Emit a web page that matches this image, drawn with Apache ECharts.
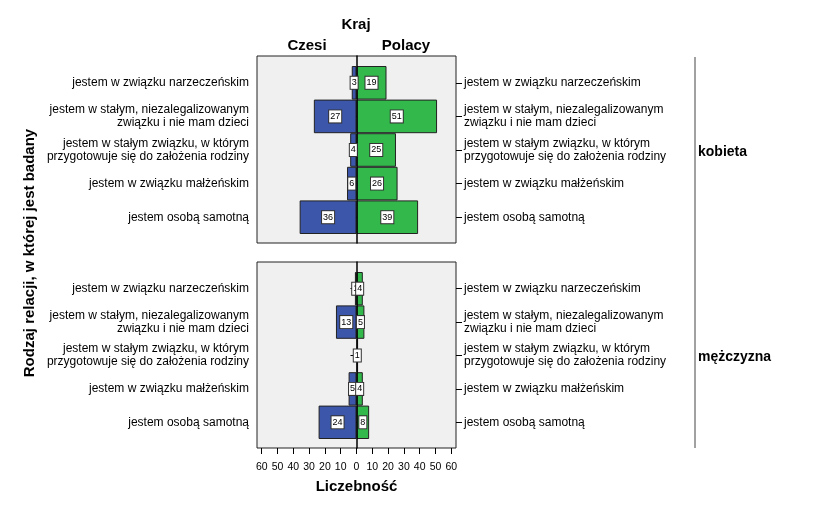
<!DOCTYPE html>
<html>
<head>
<meta charset="utf-8">
<script src="https://cdn.jsdelivr.net/npm/echarts@6/dist/echarts.min.js"></script>
<style>html,body{margin:0;padding:0;background:#fff;}#c{width:816px;height:509px;}</style>
</head>
<body>
<div id="c"></div>
<script>
const categories = [
  'jestem w związku narzeczeńskim',
  'jestem w stałym, niezalegalizowanym\nzwiązku i nie mam dzieci',
  'jestem w stałym związku, w którym\nprzygotowuje się do założenia rodziny',
  'jestem w związku małżeńskim',
  'jestem osobą samotną'
];
const countryNames = ['Czesi', 'Polacy'];
const sexNames = ['kobieta', 'mężczyzna'];
const womenCzech = [3, 27, 4, 6, 36];
const womenPolish = [19, 51, 25, 26, 39];
const menCzech = [1, 13, null, 5, 24];
const menPolish = [4, 5, 1, 4, 8];
const xTicks = [-60, -50, -40, -30, -20, -10, 0, 10, 20, 30, 40, 50, 60];

const FONT = '"Liberation Sans", Arial, sans-serif';
const BLUE = '#3c56aa';
const GREEN = '#33b84b';

const chart = echarts.init(document.getElementById('c'));

const L = 257, W = 199;
const grids = [
  {left: L, top: 56, width: W, height: 187, show: true, backgroundColor: '#f0f0f0', borderColor: '#222', borderWidth: 1},
  {left: L, top: 66, width: W, height: 168},
  {left: L, top: 262, width: W, height: 186, show: true, backgroundColor: '#f0f0f0', borderColor: '#222', borderWidth: 1},
  {left: L, top: 272, width: W, height: 167}
];

function hiddenX(gi) {
  return {gridIndex: gi, type: 'value', min: -63, max: 63, show: false};
}
function zeroY(gi) {
  return {
    gridIndex: gi, type: 'category', data: [''], z: 3,
    axisLine: {show: true, onZero: true, lineStyle: {color: '#000', width: 1.5}},
    axisTick: {show: false}, axisLabel: {show: false}, splitLine: {show: false}
  };
}
function catY(gi, pos) {
  return {
    gridIndex: gi, type: 'category', data: categories, inverse: true, position: pos,
    axisLine: {show: false},
    axisTick: {show: true, alignWithLabel: true, length: 6, lineStyle: {color: '#000', width: 1}},
    axisLabel: {fontFamily: FONT, fontSize: 12, color: '#000', margin: 8, lineHeight: 13},
    splitLine: {show: false}
  };
}
function bar(name, data, gi, yi, color, neg) {
  return {
    name, type: 'bar', xAxisIndex: gi, yAxisIndex: yi, z: 2,
    data: data.map(v => v == null ? null : (neg ? -v : v)),
    barWidth: '100%', barGap: '-100%',
    itemStyle: {color, borderColor: '#222', borderWidth: 1},
    label: {show: false}
  };
}
// value labels: placed at the middle of each bar, drawn above the zero line
function labels(name, data, gi, yi, neg) {
  const pts = [];
  data.forEach((v, i) => { if (v != null) pts.push({value: [(neg ? -v : v) / 2, i], raw: v}); });
  return {
    name, type: 'scatter', xAxisIndex: gi, yAxisIndex: yi, z: 5,
    symbolSize: 1, itemStyle: {color: 'rgba(0,0,0,0)', opacity: 1}, silent: true,
    emphasis: {disabled: true},
    data: pts,
    label: {
      show: true, position: 'inside', fontFamily: FONT, fontSize: 9, color: '#000',
      backgroundColor: '#fff', borderColor: '#333', borderWidth: 1, padding: [2, 1, 1, 1],
      formatter: p => p.data.raw
    }
  };
}

chart.setOption({
  animation: false,
  grid: grids,
  xAxis: [
    hiddenX(0), hiddenX(1),
    {
      gridIndex: 2, type: 'value', min: -63, max: 63,
      axisLine: {show: false},
      axisTick: {show: true, customValues: xTicks, length: 6, lineStyle: {color: '#000'}},
      axisLabel: {customValues: xTicks, formatter: v => Math.abs(v), fontFamily: FONT, fontSize: 10.5, color: '#000', margin: 14},
      splitLine: {show: false},
      name: 'Liczebność', nameLocation: 'middle', nameGap: 31,
      nameTextStyle: {fontFamily: FONT, fontSize: 15, fontWeight: 'bold', color: '#000'}
    },
    hiddenX(3)
  ],
  yAxis: [zeroY(0), catY(1, 'left'), catY(1, 'right'), zeroY(2), catY(3, 'left'), catY(3, 'right')],
  series: [
    bar(countryNames[0], womenCzech, 1, 1, BLUE, true),
    bar(countryNames[1], womenPolish, 1, 1, GREEN, false),
    bar(countryNames[0], menCzech, 3, 4, BLUE, true),
    bar(countryNames[1], menPolish, 3, 4, GREEN, false),
    labels(countryNames[0], womenCzech, 1, 1, true),
    labels(countryNames[1], womenPolish, 1, 1, false),
    labels(countryNames[0], menCzech, 3, 4, true),
    labels(countryNames[1], menPolish, 3, 4, false)
  ],
  graphic: [
    {type: 'text', x: 356, y: 25, style: {text: 'Kraj', font: 'bold 15px ' + FONT, fill: '#000', align: 'center', verticalAlign: 'middle'}},
    {type: 'text', x: 307, y: 46, style: {text: countryNames[0], font: 'bold 15px ' + FONT, fill: '#000', align: 'center', verticalAlign: 'middle'}},
    {type: 'text', x: 406, y: 46, style: {text: countryNames[1], font: 'bold 15px ' + FONT, fill: '#000', align: 'center', verticalAlign: 'middle'}},
    {type: 'text', x: 30, y: 253, rotation: Math.PI / 2, style: {text: 'Rodzaj relacji, w której jest badany', font: 'bold 15px ' + FONT, fill: '#000', align: 'center', verticalAlign: 'middle'}},
    {type: 'line', shape: {x1: 695, y1: 57, x2: 695, y2: 448}, style: {stroke: '#444', lineWidth: 1}},
    {type: 'text', x: 698, y: 152, style: {text: sexNames[0], font: 'bold 14px ' + FONT, fill: '#000', align: 'left', verticalAlign: 'middle'}},
    {type: 'text', x: 698, y: 357, style: {text: sexNames[1], font: 'bold 14px ' + FONT, fill: '#000', align: 'left', verticalAlign: 'middle'}}
  ]
});
</script>
</body>
</html>
